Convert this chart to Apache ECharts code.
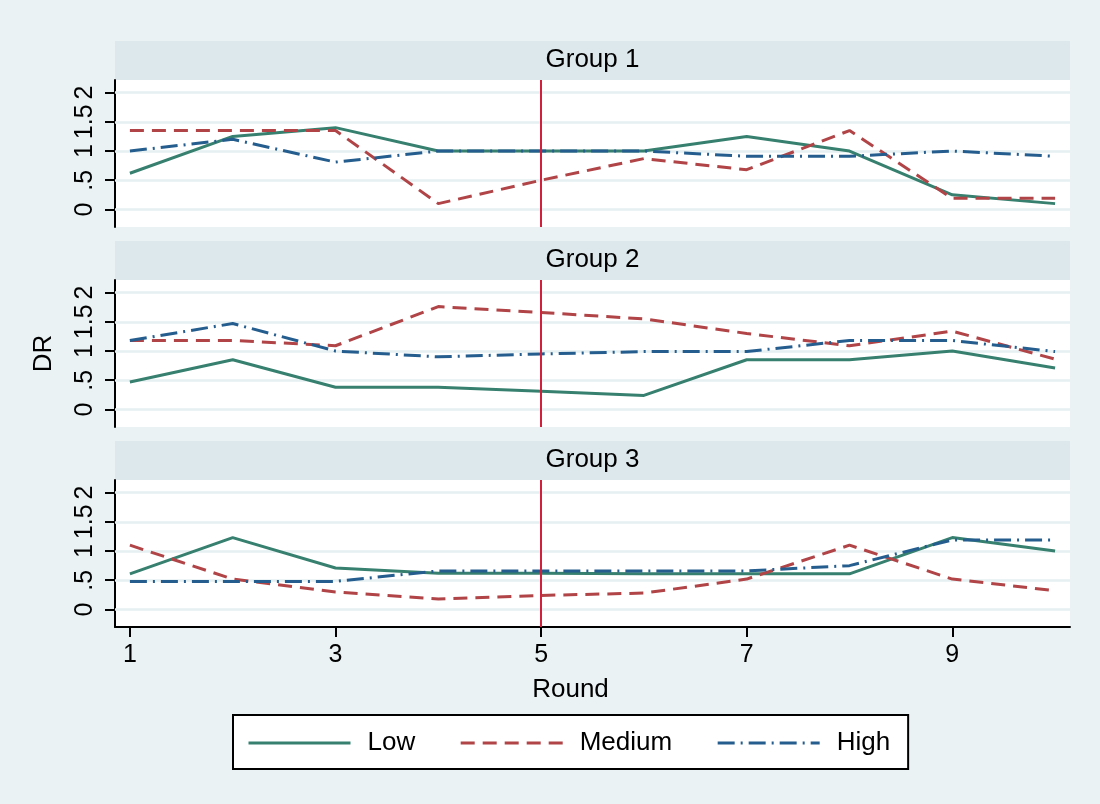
<!DOCTYPE html>
<html>
<head>
<meta charset="utf-8">
<script src="https://cdn.jsdelivr.net/npm/echarts@6/dist/echarts.min.js"></script>
<style>html,body{margin:0;padding:0;background:#eaf2f3}#c{width:1100px;height:804px}</style>
</head>
<body>
<div id="c"></div>
<script>
// ---- data ----
const rounds = [1, 2, 3, 4, 5, 6, 7, 8, 9, 10];
const groupNames = ['Group 1', 'Group 2', 'Group 3'];
const seriesNames = ['Low', 'Medium', 'High'];
const g1Low  = [0.62, 1.25, 1.40, 1.00, 1.00, 1.00, 1.25, 1.00, 0.25, 0.10];
const g1Med  = [1.35, 1.35, 1.35, 0.10, 0.50, 0.87, 0.68, 1.35, 0.19, 0.19];
const g1High = [1.00, 1.20, 0.81, 1.00, 1.00, 1.00, 0.91, 0.91, 1.00, 0.91];
const g2Low  = [0.47, 0.85, 0.38, 0.38, 0.31, 0.24, 0.85, 0.85, 1.00, 0.71];
const g2Med  = [1.18, 1.18, 1.09, 1.76, 1.66, 1.55, 1.30, 1.09, 1.34, 0.86];
const g2High = [1.18, 1.47, 1.00, 0.90, 0.95, 0.99, 0.99, 1.18, 1.18, 0.99];
const g3Low  = [0.61, 1.23, 0.71, 0.62, 0.62, 0.61, 0.61, 0.61, 1.23, 1.00];
const g3Med  = [1.10, 0.52, 0.30, 0.18, 0.24, 0.28, 0.52, 1.10, 0.52, 0.32];
const g3High = [0.48, 0.48, 0.48, 0.66, 0.66, 0.66, 0.66, 0.75, 1.19, 1.19];
const yTicks = [0, 0.5, 1, 1.5, 2];
const yTickLabels = ['0', '.5', '1', '1.5', '2'];
const xTicks = [1, 3, 5, 7, 9];
const xTickLabels = ['1', '3', '5', '7', '9'];
const refRound = 5;

// ---- styling ----
const panels = [[g1Low, g1Med, g1High], [g2Low, g2Med, g2High], [g3Low, g3Med, g3High]];
const colors = ['#37806f', '#b04447', '#245d8e'];
const dashes = ['solid', [14, 8], [17, 6, 2, 6]];
const FONT = '"Liberation Sans", Arial, sans-serif';
const plotLeft = 115, plotW = 955, plotH = 147, tops = [80, 280, 480], stripH = 39;

const grid = [], xAxis = [], yAxis = [], series = [], title = [], graphic = [];
tops.forEach((t, p) => {
  grid.push({ left: plotLeft, top: t, width: plotW, height: plotH, show: true, backgroundColor: '#ffffff', borderWidth: 0 });
  graphic.push({ type: 'rect', z: 0, shape: { x: plotLeft, y: t - stripH, width: plotW, height: stripH }, style: { fill: '#dde8ed' } });
  title.push({ text: groupNames[p], left: plotLeft + plotW / 2, textAlign: 'center', top: t - stripH + 6, padding: 0, z: 10,
    textStyle: { fontFamily: FONT, fontSize: 26, fontWeight: 'normal', color: '#000' } });
  const bottom = p === 2;
  xAxis.push({
    gridIndex: p, type: 'value', min: 0.855, max: 10.145, show: bottom,
    axisLine: { show: true, onZero: false, lineStyle: { color: '#000', width: 2 } },
    axisTick: { show: true, length: 10, lineStyle: { color: '#000', width: 2 }, customValues: xTicks },
    axisLabel: { show: true, customValues: xTicks, formatter: v => xTickLabels[xTicks.indexOf(v)] ?? '', fontFamily: FONT, fontSize: 25, color: '#000', margin: 16 },
    splitLine: { show: false },
    name: bottom ? 'Round' : '', nameLocation: 'middle', nameGap: 50,
    nameTextStyle: { fontFamily: FONT, fontSize: 26, color: '#000', padding: [0, 44, 0, 0] }
  });
  yAxis.push({
    gridIndex: p, type: 'value', min: -0.3, max: 2.215,
    axisLine: { show: true, onZero: false, lineStyle: { color: '#000', width: 2 } },
    axisTick: { show: true, length: 10, lineStyle: { color: '#000', width: 2 }, customValues: yTicks },
    axisLabel: { show: true, customValues: yTicks, rotate: 90, formatter: v => yTickLabels[yTicks.indexOf(v)] ?? '', fontFamily: FONT, fontSize: 25, color: '#000', margin: 17, hideOverlap: false },
    splitLine: { show: false },
    name: p === 1 ? 'DR' : '', nameLocation: 'middle', nameGap: 58, nameRotate: 90,
    nameTextStyle: { fontFamily: FONT, fontSize: 26, color: '#000' }
  });
  // gridlines (below data)
  series.push({
    type: 'line', name: '_grid' + p, xAxisIndex: p, yAxisIndex: p, data: [], z: 1, silent: true, animation: false,
    markLine: { z: 1, symbol: 'none', silent: true, animation: false, label: { show: false },
      lineStyle: { color: '#e6eff1', width: 2.5, type: 'solid' },
      data: yTicks.map(v => ({ yAxis: v })) }
  });
  panels[p].forEach((vals, s) => {
    series.push({
      type: 'line', name: seriesNames[s], xAxisIndex: p, yAxisIndex: p, z: 3,
      symbol: 'none', showSymbol: false, animation: false,
      data: rounds.map((r, i) => [r, vals[i]]),
      itemStyle: { color: colors[s] },
      lineStyle: { color: colors[s], width: 3, type: dashes[s] }
    });
  });
  // reference line
  series.push({
    type: 'line', name: '_ref' + p, xAxisIndex: p, yAxisIndex: p, data: [], z: 5, silent: true, animation: false,
    markLine: { z: 5, symbol: 'none', silent: true, animation: false, label: { show: false },
      lineStyle: { color: '#d2203c', width: 2, type: 'solid' },
      data: [{ xAxis: refRound }] }
  });
});

const chart = echarts.init(document.getElementById('c'), null, { renderer: 'canvas' });
chart.setOption({
  backgroundColor: '#eaf2f3',
  animation: false,
  grid, xAxis, yAxis, series, title, graphic,
  legend: {
    data: seriesNames, left: 233, top: 715, orient: 'horizontal',
    backgroundColor: '#ffffff', borderColor: '#000', borderWidth: 2,
    padding: [15, 18, 13, 14], itemWidth: 102, itemHeight: 25, itemGap: 44,
    itemStyle: { opacity: 0 },
    lineStyle: { width: 3 },
    textStyle: { fontFamily: FONT, fontSize: 26, color: '#000', padding: [2, 0, 0, 12] }
  }
});
</script>
</body>
</html>
